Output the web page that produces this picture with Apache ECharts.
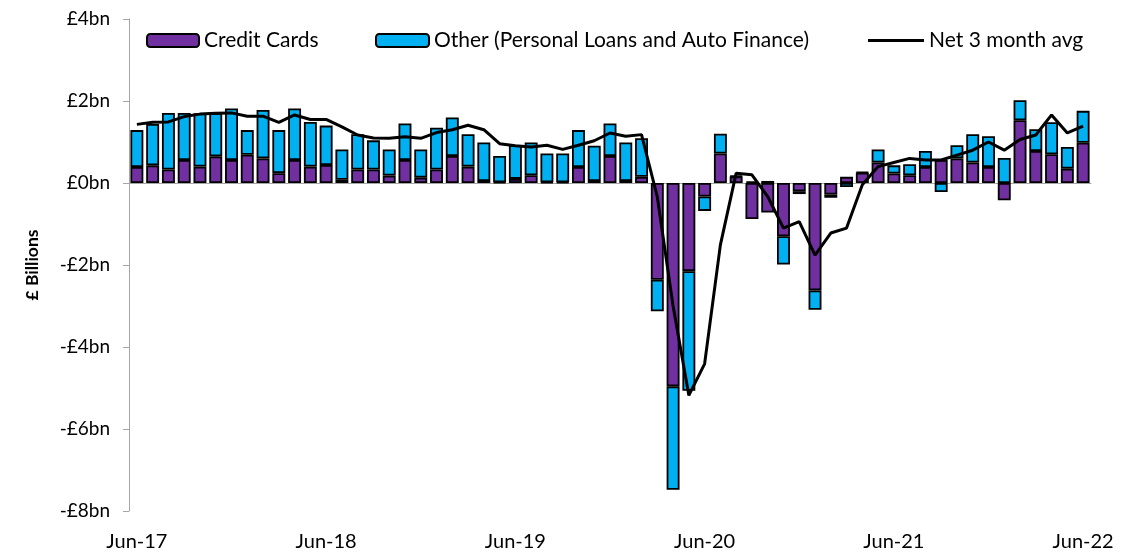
<!DOCTYPE html>
<html>
<head>
<meta charset="utf-8">
<script src="https://cdn.jsdelivr.net/npm/echarts@6/dist/echarts.min.js"></script>
<style>
  html, body { margin: 0; padding: 0; background: #fff; }
  #chart { width: 1129px; height: 552px; }
</style>
</head>
<body>
<div id="chart"></div>
<script>
// monthly net lending flows, £bn
var months = [
  'Jun-17', 'Jul-17', 'Aug-17', 'Sep-17', 'Oct-17', 'Nov-17', 'Dec-17', 'Jan-18', 'Feb-18', 'Mar-18', 'Apr-18', 'May-18',
  'Jun-18', 'Jul-18', 'Aug-18', 'Sep-18', 'Oct-18', 'Nov-18', 'Dec-18', 'Jan-19', 'Feb-19', 'Mar-19', 'Apr-19', 'May-19',
  'Jun-19', 'Jul-19', 'Aug-19', 'Sep-19', 'Oct-19', 'Nov-19', 'Dec-19', 'Jan-20', 'Feb-20', 'Mar-20', 'Apr-20', 'May-20',
  'Jun-20', 'Jul-20', 'Aug-20', 'Sep-20', 'Oct-20', 'Nov-20', 'Dec-20', 'Jan-21', 'Feb-21', 'Mar-21', 'Apr-21', 'May-21',
  'Jun-21', 'Jul-21', 'Aug-21', 'Sep-21', 'Oct-21', 'Nov-21', 'Dec-21', 'Jan-22', 'Feb-22', 'Mar-22', 'Apr-22', 'May-22',
  'Jun-22'
]
var creditCards = [
  0.39, 0.43, 0.33, 0.56, 0.40, 0.65, 0.56, 0.69, 0.60, 0.24, 0.56, 0.40,
  0.44, 0.08, 0.33, 0.33, 0.18, 0.56, 0.13, 0.33, 0.66, 0.40, 0.05, 0.02,
  0.10, 0.19, 0.02, 0.02, 0.39, 0.05, 0.66, 0.05, 0.15, -2.36, -4.96, -2.15,
  -0.33, 0.72, 0.16, -0.88, -0.72, -1.30, -0.20, -2.62, -0.28, 0.15, 0.25, 0.50,
  0.23, 0.19, 0.39, 0.56, 0.60, 0.50, 0.39, -0.42, 1.53, 0.78, 0.70, 0.35,
  0.98
]
var otherLoans = [
  0.90, 1.01, 1.38, 1.15, 1.30, 1.06, 1.26, 0.60, 1.18, 1.05, 1.26, 1.09,
  0.96, 0.74, 0.86, 0.71, 0.64, 0.89, 0.69, 1.02, 0.94, 0.79, 0.94, 0.64,
  0.82, 0.80, 0.70, 0.70, 0.90, 0.86, 0.79, 0.94, 0.94, -0.77, -2.52, -2.92,
  -0.35, 0.48, 0.02, 0.04, 0.05, -0.69, -0.07, -0.47, -0.08, -0.10, 0.02, 0.32,
  0.20, 0.27, 0.39, -0.22, 0.32, 0.69, 0.75, 0.61, 0.49, 0.53, 0.78, 0.53,
  0.78
]
var netAvg = [
  1.43, 1.48, 1.49, 1.62, 1.68, 1.70, 1.71, 1.63, 1.63, 1.48, 1.66, 1.55,
  1.55, 1.37, 1.17, 1.10, 1.09, 1.13, 1.09, 1.23, 1.30, 1.41, 1.30, 0.96,
  0.91, 0.88, 0.92, 0.82, 0.92, 1.03, 1.22, 1.14, 1.18, -0.34, -3.0, -5.18,
  -4.41, -1.51, 0.24, 0.20, -0.33, -1.10, -0.94, -1.76, -1.22, -1.10, -0.04, 0.40,
  0.50, 0.60, 0.56, 0.56, 0.68, 0.80, 1.00, 0.80, 1.06, 1.17, 1.66, 1.22,
  1.39
]

var font = 'Lato'
var chart = echarts.init(document.getElementById('chart'))

function bnLabel (v) {
  return v < 0 ? '-£' + Math.abs(v) + 'bn' : '£' + v + 'bn'
}

var legendText = { fontSize: 21, fontFamily: font, color: '#000' }

var option = {
  animation: false,
  backgroundColor: '#fff',
  grid: { left: 129, right: 38, top: 19, bottom: 41 },
  legend: [
    { left: 146, top: 30, padding: 0, data: ['Credit Cards'], itemWidth: 52, itemHeight: 13, textStyle: legendText },
    { left: 375, top: 30, padding: 0, data: ['Other (Personal Loans and Auto Finance)'], itemWidth: 53, itemHeight: 13, textStyle: legendText },
    {
      left: 868,
      top: 30,
      padding: 0,
      data: [{ name: 'Net 3 month avg', icon: 'rect' }],
      itemWidth: 56,
      itemHeight: 3,
      itemStyle: { color: '#000', borderWidth: 0 },
      textStyle: legendText
    }
  ],
  xAxis: [
    {
      // labels sit below the plot
      type: 'category',
      data: months,
      position: 'bottom',
      axisLine: { show: false, onZero: false },
      axisTick: { show: false },
      axisLabel: { interval: 11, margin: 21, fontSize: 20, fontFamily: font, color: '#000' }
    },
    {
      // axis line through zero
      type: 'category',
      data: months,
      position: 'top',
      axisLine: { onZero: true, lineStyle: { color: '#a6a6a6', width: 1 } },
      axisTick: { interval: 11, inside: true, length: 7, lineStyle: { color: '#a6a6a6' } },
      axisLabel: { show: false }
    }
  ],
  yAxis: {
    type: 'value',
    min: -8,
    max: 4,
    interval: 2,
    name: '£ Billions',
    nameLocation: 'middle',
    nameGap: 88,
    nameTextStyle: { fontSize: 17.5, fontWeight: 'bold', fontFamily: font, color: '#000' },
    splitLine: { show: false },
    axisLine: { show: true, lineStyle: { color: '#a6a6a6', width: 1 } },
    axisTick: { show: true, length: 6, lineStyle: { color: '#a6a6a6' } },
    axisLabel: { formatter: bnLabel, margin: 19, fontSize: 19, fontFamily: font, color: '#000' }
  },
  series: [
    {
      name: 'Credit Cards',
      type: 'bar',
      stack: 'net',
      barCategoryGap: '18%',
      data: creditCards,
      itemStyle: { color: '#7030a0', borderColor: '#000', borderWidth: 1.8 }
    },
    {
      name: 'Other (Personal Loans and Auto Finance)',
      type: 'bar',
      stack: 'net',
      data: otherLoans,
      itemStyle: { color: '#00b0f0', borderColor: '#000', borderWidth: 1.8 }
    },
    {
      name: 'Net 3 month avg',
      type: 'line',
      data: netAvg,
      symbol: 'none',
      z: 5,
      itemStyle: { color: '#000' },
      lineStyle: { color: '#000', width: 3 }
    }
  ]
}
chart.setOption(option)
</script>
</body>
</html>
